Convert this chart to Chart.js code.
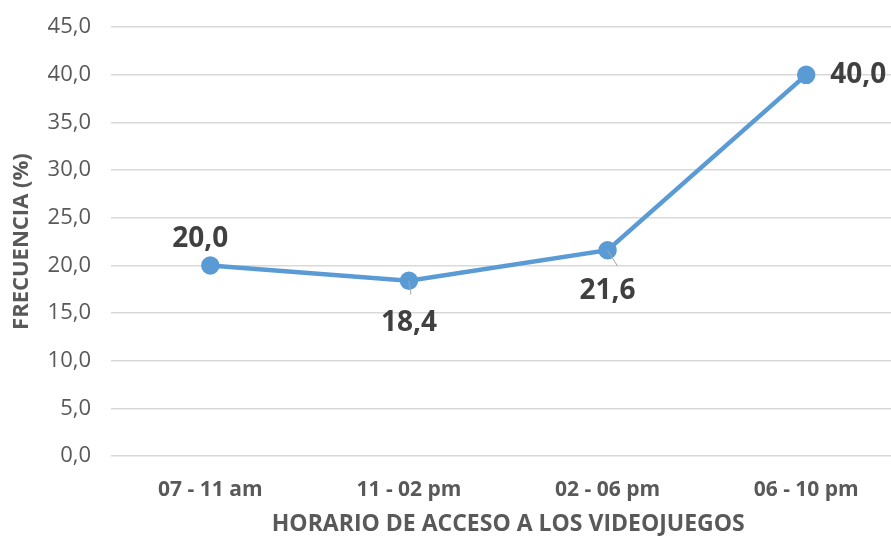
<!DOCTYPE html>
<html>
<head>
<meta charset="utf-8">
<script src="https://cdn.jsdelivr.net/npm/chart.js@4.4.1/dist/chart.umd.min.js"></script>
<style>
  html, body { margin: 0; padding: 0; background: #fff; overflow: hidden; }
  #wrap { width: 891px; height: 536px; overflow: hidden; }
  canvas { display: block; margin-top: -6px; }
</style>
</head>
<body>
<div id="wrap"><canvas id="c" width="917" height="542"></canvas></div>
<script>
// Horario de acceso y frecuencia (%)
const categories = ['07 - 11 am', '11 - 02 pm', '02 - 06 pm', '06 - 10 pm'];
const frecuencia = [20.0, 18.4, 21.6, 40.0];
const yTicks = [0, 5, 10, 15, 20, 25, 30, 35, 40, 45];

// Where each value label sits relative to its point (dx, dy, leader line)
const labelPlacement = [
  { dx: -10, dy: -26, align: 'center', leader: null },
  { dx: 0,   dy: 42,  align: 'center', leader: [2, 14] },
  { dx: 0,   dy: 41,  align: 'center', leader: [10, 16] },
  { dx: 24,  dy: 0,   align: 'left',   leader: null }
];

const fmt = v => v.toFixed(1).replace('.', ',');
const FONT = '"Open Sans", "Liberation Sans", sans-serif';

const valueLabels = {
  id: 'valueLabels',
  afterDatasetsDraw(chart) {
    const ctx = chart.ctx;
    const meta = chart.getDatasetMeta(0);
    ctx.save();
    meta.data.forEach((pt, i) => {
      const p = labelPlacement[i];
      const tx = pt.x + p.dx, ty = pt.y + p.dy;
      if (p.leader) {
        ctx.strokeStyle = '#A6A6A6';
        ctx.lineWidth = 1;
        ctx.beginPath();
        ctx.moveTo(pt.x, pt.y);
        ctx.lineTo(pt.x + p.leader[0], pt.y + p.leader[1]);
        ctx.stroke();
      }
      ctx.fillStyle = '#404040';
      ctx.font = 'bold 28px ' + FONT;
      ctx.textAlign = p.align;
      ctx.textBaseline = 'middle';
      ctx.fillText(fmt(frecuencia[i]), tx, ty);
    });
    ctx.restore();
  }
};

new Chart(document.getElementById('c'), {
  type: 'line',
  data: {
    labels: categories,
    datasets: [{
      data: frecuencia,
      borderColor: '#5B9BD5',
      backgroundColor: '#5B9BD5',
      borderWidth: 4.5,
      pointRadius: 7,
      pointHoverRadius: 7,
      tension: 0
    }]
  },
  options: {
    responsive: false,
    animation: false,
    events: [],
    layout: { padding: { top: 21, left: 0, right: 0, bottom: 0 } },
    plugins: { legend: { display: false }, tooltip: { enabled: false } },
    scales: {
      x: {
        offset: true,
        grid: { display: false, drawTicks: false },
        border: { display: false },
        ticks: { color: '#595959', font: { family: FONT, size: 21, weight: 'bold' }, padding: 21 },
        title: {
          display: true,
          text: 'HORARIO DE ACCESO A LOS VIDEOJUEGOS',
          color: '#595959',
          font: { family: FONT, size: 23, weight: 'bold' },
          padding: { top: 10, bottom: -2 }
        },
        afterFit(s) { s.height = 80; }
      },
      y: {
        min: 0,
        max: 45,
        afterBuildTicks(s) { s.ticks = yTicks.map(v => ({ value: v })); },
        grid: { color: '#D9D9D9', lineWidth: 1.5, drawTicks: false },
        border: { display: false },
        ticks: {
          color: '#595959',
          font: { family: FONT, size: 22 },
          padding: 20,
          callback: v => fmt(v)
        },
        title: {
          display: true,
          text: 'FRECUENCIA (%)',
          color: '#595959',
          font: { family: FONT, size: 22, weight: 'bold' },
          padding: { top: 9, bottom: 0 }
        },
        afterFit(s) { s.width = 111; }
      }
    }
  },
  plugins: [valueLabels]
});
</script>
</body>
</html>
